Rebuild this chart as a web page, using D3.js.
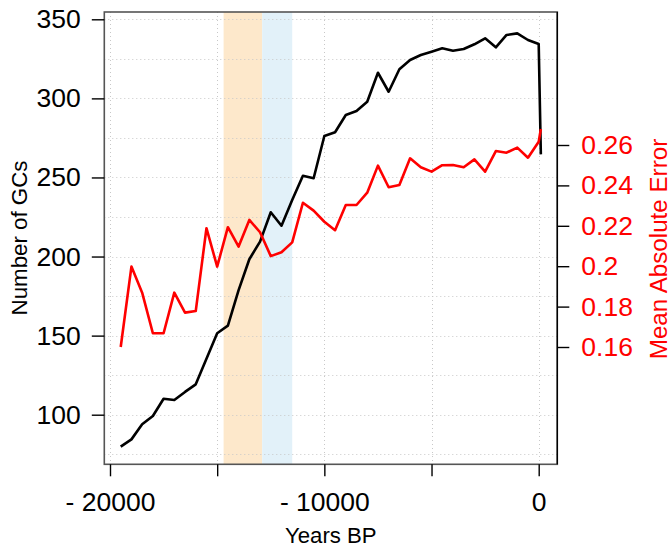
<!DOCTYPE html>
<html>
<head>
<meta charset="utf-8">
<script src="https://cdn.jsdelivr.net/npm/d3@7"></script>
<style>
  html, body { margin: 0; padding: 0; background: #fff; }
  svg { display: block; font-family: "Liberation Sans", Arial, Helvetica, sans-serif; }
</style>
</head>
<body>
<svg id="chart" width="672" height="550"></svg>
<script>
// ---- data ----
const years = [-19500, -19000, -18500, -18000, -17500, -17000, -16500, -16000, -15500, -15000,
               -14500, -14000, -13500, -13000, -12500, -12000, -11500, -11000, -10500, -10000,
               -9500, -9000, -8500, -8000, -7500, -7000, -6500, -6000, -5500, -5000,
               -4500, -4000, -3500, -3000, -2500, -2000, -1500, -1000, -500, 0, 100];
const gcCount = [79.8, 84.4, 93.9, 99.2, 110.1, 109.3, 114.4, 119.2, 135.4, 151.5,
                 156.3, 178.8, 198.3, 209.4, 228.0, 219.5, 235.7, 251.1, 249.5, 276.2,
                 278.6, 289.5, 292.0, 297.9, 316.2, 304.2, 318.4, 324.3, 327.4, 329.5,
                 331.7, 330.1, 331.2, 334.2, 338.0, 332.3, 340.1, 341.1, 336.9, 334.4, 264.6];
const mae = [0.160, 0.1998, 0.1869, 0.1668, 0.1668, 0.1869, 0.1770, 0.1778, 0.2188, 0.1998,
             0.2193, 0.2097, 0.2229, 0.2168, 0.2050, 0.2069, 0.2118, 0.2314, 0.2275, 0.2220,
             0.2178, 0.2303, 0.2303, 0.2364, 0.2498, 0.2391, 0.2402, 0.2534, 0.2490, 0.2468,
             0.2500, 0.2501, 0.2490, 0.2529, 0.2468, 0.2570, 0.2562, 0.2587, 0.2537, 0.2616, 0.2679];
const bandStarts = [-14700, -12900];
const bandEnds   = [-12900, -11500];
const bandColors = ["#FDE8CB", "#E2F1F9"];
const xTicks = [-20000, -15000, -10000, -5000, 0];
const xTickLabels = ["- 20000", "", "- 10000", "", "0"];
const yTicks = [100, 150, 200, 250, 300, 350];
const yGrid = [75, 100, 125, 150, 175, 200, 225, 250, 275, 300, 325, 350];
const y2Ticks = [0.16, 0.18, 0.20, 0.22, 0.24, 0.26];
const y2TickLabels = ["0.16", "0.18", "0.2", "0.22", "0.24", "0.26"];

// ---- layout ----
const box = {left: 104.3, right: 557.3, top: 12, bottom: 464.3};
const svg = d3.select("#chart");

const x = d3.scaleLinear().domain([-20000, 0]).range([110, 538.7]);
const y = d3.scaleLinear().domain([100, 350]).range([414.7, 19.3]);
const y2 = d3.scaleLinear().domain([0.16, 0.26]).range([347, 145]);

// bands
svg.append("g").selectAll("rect").data(bandStarts).join("rect")
  .attr("x", (d) => x(d))
  .attr("width", (d, i) => x(bandEnds[i]) - x(d))
  .attr("y", box.top).attr("height", box.bottom - box.top)
  .attr("fill", (d, i) => bandColors[i]);

// grid
const grid = svg.append("g").attr("stroke", "#C8C8C8").attr("stroke-width", 1)
  .attr("stroke-dasharray", "1,3");
grid.selectAll("line.v").data(xTicks).join("line").attr("class", "v")
  .attr("x1", d => Math.round(x(d)) + 0.5).attr("x2", d => Math.round(x(d)) + 0.5)
  .attr("y1", box.top).attr("y2", box.bottom);
grid.selectAll("line.h").data(yGrid).join("line").attr("class", "h")
  .attr("y1", d => Math.round(y(d)) + 0.5).attr("y2", d => Math.round(y(d)) + 0.5)
  .attr("x1", box.left).attr("x2", box.right);

// lines
svg.append("path")
  .datum(years.map((yr, i) => [yr, gcCount[i]]))
  .attr("fill", "none").attr("stroke", "#000").attr("stroke-width", 2.6)
  .attr("stroke-linejoin", "round")
  .attr("d", d3.line().x(d => x(d[0])).y(d => y(d[1])));

svg.append("path")
  .datum(years.map((yr, i) => [yr, mae[i]]))
  .attr("fill", "none").attr("stroke", "#FF0000").attr("stroke-width", 2.6)
  .attr("stroke-linejoin", "round")
  .attr("d", d3.line().x(d => x(d[0])).y(d => y2(d[1])));

// box
svg.append("rect")
  .attr("x", box.left).attr("y", box.top)
  .attr("width", box.right - box.left).attr("height", box.bottom - box.top)
  .attr("fill", "none").attr("stroke", "#555").attr("stroke-width", 1.6);
svg.append("line")
  .attr("x1", box.right).attr("x2", box.right).attr("y1", box.top).attr("y2", box.bottom)
  .attr("stroke", "#000").attr("stroke-width", 1.4);

const fs = 26.5;

// bottom axis
const xAxis = d3.axisBottom(x).tickValues(xTicks)
  .tickFormat((d, i) => xTickLabels[i]).tickSize(12).tickSizeOuter(0).tickPadding(16);
const gx = svg.append("g").attr("transform", `translate(0,${box.bottom})`).call(xAxis);
gx.select(".domain").remove();
gx.selectAll(".tick line").attr("stroke", "#000").attr("stroke-width", 1.4);
gx.selectAll(".tick text").attr("font-size", fs).attr("fill", "#000")
  .attr("font-family", "Liberation Sans, Arial, sans-serif");

// left axis
const yAxis = d3.axisLeft(y).tickValues(yTicks).tickFormat(d3.format("d"))
  .tickSize(12.5).tickSizeOuter(0).tickPadding(11);
const gy = svg.append("g").attr("transform", `translate(${box.left},0)`).call(yAxis);
gy.select(".domain").remove();
gy.selectAll(".tick line").attr("stroke", "#000").attr("stroke-width", 1.4);
gy.selectAll(".tick text").attr("font-size", fs).attr("fill", "#000")
  .attr("font-family", "Liberation Sans, Arial, sans-serif");

// right axis
const y2Axis = d3.axisRight(y2).tickValues(y2Ticks)
  .tickFormat((d, i) => y2TickLabels[i]).tickSize(12).tickSizeOuter(0).tickPadding(12);
const gy2 = svg.append("g").attr("transform", `translate(${box.right},0)`).call(y2Axis);
gy2.select(".domain").remove();
gy2.selectAll(".tick line").attr("stroke", "#000").attr("stroke-width", 1.4);
gy2.selectAll(".tick text").attr("font-size", fs).attr("fill", "#FF0000")
  .attr("font-family", "Liberation Sans, Arial, sans-serif");

// titles
svg.append("text")
  .attr("transform", "translate(26.7,238) rotate(-90)")
  .attr("text-anchor", "middle").attr("font-size", 22.3).attr("fill", "#000")
  .text("Number of GCs");
svg.append("text")
  .attr("transform", "translate(667,249) rotate(-90)")
  .attr("text-anchor", "middle").attr("font-size", 24.2).attr("fill", "#FF0000")
  .text("Mean Absolute Error");
svg.append("text")
  .attr("x", 330.8).attr("y", 543)
  .attr("text-anchor", "middle").attr("font-size", 22.2).attr("fill", "#000")
  .text("Years BP");
</script>
</body>
</html>
